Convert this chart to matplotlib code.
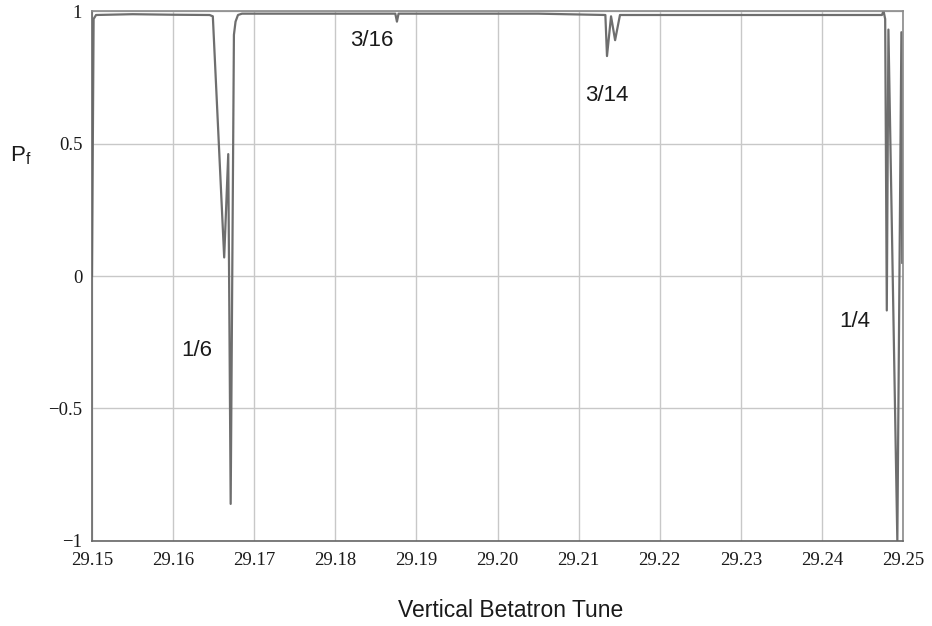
import numpy as np
import matplotlib
matplotlib.use("Agg")
import matplotlib.pyplot as plt

# tune values and polarization
tune = [29.1500, 29.1502, 29.1505, 29.1550, 29.1600, 29.1645, 29.1649,
        29.1663, 29.1668, 29.1671, 29.1675, 29.1677, 29.1680, 29.1685,
        29.1750, 29.1800, 29.1874, 29.1876, 29.1878, 29.1950, 29.2050,
        29.2133, 29.2135, 29.2140, 29.2145, 29.2151, 29.2200, 29.2300,
        29.2400, 29.2474, 29.2476, 29.2478, 29.2480, 29.2482, 29.2493,
        29.2498, 29.2499]
pf = [0.0, 0.97, 0.985, 0.988, 0.986, 0.985, 0.98,
      0.07, 0.46, -0.86, 0.91, 0.96, 0.985, 0.99,
      0.99, 0.99, 0.99, 0.96, 0.99, 0.99, 0.99,
      0.985, 0.83, 0.98, 0.89, 0.985, 0.985, 0.985,
      0.985, 0.985, 1.0, 0.97, -0.13, 0.93, -1.0,
      0.92, 0.05]

xticks = [29.15, 29.16, 29.17, 29.18, 29.19, 29.20, 29.21, 29.22, 29.23, 29.24, 29.25]
yticks = [-1, -0.5, 0, 0.5, 1]
ylabels = ["\u22121", "\u22120.5", "0", "0.5", "1"]

labels = ["1/6", "3/16", "3/14", "1/4"]
lab_x = [29.1629, 29.1845, 29.2135, 29.2441]
lab_y = [-0.28, 0.89, 0.68, -0.17]

fig = plt.figure(figsize=(9.32, 6.26), dpi=100)
ax = fig.add_axes([0.0987, 0.1358, 0.8702, 0.8466])

ax.plot(tune, pf, color="#6e6e6e", lw=1.6)

ax.set_xlim(29.15, 29.25)
ax.set_ylim(-1, 1)
ax.set_xticks(xticks)
ax.set_xticklabels(["%.2f" % v for v in xticks], family="Liberation Serif", fontsize=13.5)
ax.set_yticks(yticks)
ax.set_yticklabels(ylabels, family="Liberation Serif", fontsize=13.5)
ax.tick_params(axis="x", length=0, pad=8, colors="#1a1a1a")
ax.tick_params(axis="y", length=0, pad=7, colors="#1a1a1a")
ax.grid(True, color="#c8c8c8", lw=1)
ax.set_axisbelow(True)
for s in ax.spines.values():
    s.set_color("#8a8a8a")
    s.set_linewidth(1.2)
ax.spines["left"].set_color("#666666")
ax.spines["bottom"].set_color("#666666")

for t, x, y in zip(labels, lab_x, lab_y):
    ax.text(x, y, t, family="Liberation Sans", fontsize=16, ha="center", va="center", color="#1a1a1a")

fig.text(0.548, 0.025, "Vertical Betatron Tune", family="Liberation Sans", fontsize=16.5,
         ha="center", va="center", color="#1a1a1a")
fig.text(0.022, 0.752, r"P$_\mathregular{f}$", family="Liberation Sans", fontsize=16,
         ha="center", va="center", color="#1a1a1a")

fig.savefig("out.png", dpi=100)
